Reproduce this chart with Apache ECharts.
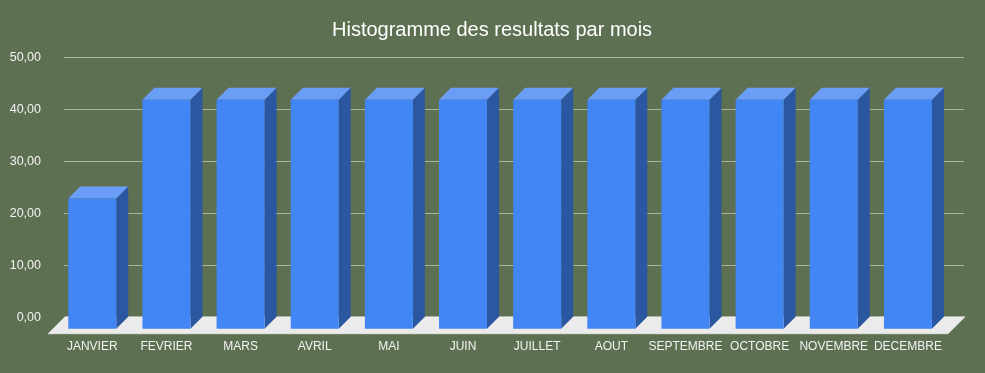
<!DOCTYPE html>
<html>
<head>
<meta charset="utf-8">
<script src="https://cdn.jsdelivr.net/npm/echarts@6/dist/echarts.min.js"></script>
<style>
html,body{margin:0;padding:0;background:#5e7052;}
#chart{width:985px;height:373px;}
</style>
</head>
<body>
<div id="chart"></div>
<script>
var titleText = 'Histogramme des resultats par mois';
var categories = ['JANVIER','FEVRIER','MARS','AVRIL','MAI','JUIN','JUILLET','AOUT','SEPTEMBRE','OCTOBRE','NOVEMBRE','DECEMBRE'];
var values = [23, 42, 42, 42, 42, 42, 42, 42, 42, 42, 42, 42];
var yMin = 0, yMax = 50, yStep = 10;

var DEPTH = 12, FRONT_DROP = 11.5, HALF_W = 24, FLOOR_D = 17;
var font = 'Liberation Sans, Arial, sans-serif';

var chart = echarts.init(document.getElementById('chart'));
chart.setOption({
  backgroundColor: '#5e7052',
  animation: false,
  title: {
    text: titleText, left: 327, top: 15,
    textStyle: {color: '#ffffff', fontSize: 20, fontWeight: 'normal', fontFamily: font}
  },
  grid: [
    {left: 64, width: 900, top: 57.3, height: 260},
    {left: 55.2, width: 889.8, top: 57.3, height: 260}
  ],
  xAxis: [
    {gridIndex: 0, type: 'value', min: 0, max: 1, show: false},
    {gridIndex: 1, type: 'category', data: categories,
     axisLine: {show: false}, axisTick: {show: false}, splitLine: {show: false},
     axisLabel: {color: '#f2f2f2', fontSize: 12, fontFamily: font, margin: 23, interval: 0}}
  ],
  yAxis: [
    {gridIndex: 0, type: 'value', min: yMin, max: yMax, interval: yStep,
     axisLine: {show: false}, axisTick: {show: false},
     splitLine: {lineStyle: {color: '#aab49f', width: 1}},
     axisLabel: {color: '#f2f2f2', fontSize: 12.5, fontFamily: font, margin: 23,
       formatter: function (v) { return v.toFixed(2).replace('.', ','); }}},
    {gridIndex: 1, type: 'value', min: yMin, max: yMax, interval: yStep, show: false}
  ],
  series: [
    {
      type: 'custom', xAxisIndex: 0, yAxisIndex: 0, data: [[0, 0]], z: 1,
      renderItem: function (params, api) {
        var cs = params.coordSys;
        var y0 = api.coord([0, 0])[1] - 0.5;
        var x0 = cs.x + 1, x1 = cs.x + cs.width + 1;
        return {
          type: 'polygon',
          shape: {points: [[x0, y0], [x1, y0], [x1 - FLOOR_D, y0 + FLOOR_D], [x0 - FLOOR_D, y0 + FLOOR_D]]},
          style: {fill: '#ebebeb', stroke: '#ffffff', lineWidth: 0.5}
        };
      }
    },
    {
      type: 'custom', xAxisIndex: 1, yAxisIndex: 1, z: 3,
      data: values.map(function (v, i) { return [i, v]; }),
      renderItem: function (params, api) {
        var top = api.coord([api.value(0), api.value(1)]);
        var base = api.coord([api.value(0), 0]);
        var cx = top[0];
        var l = cx - HALF_W, r = cx + HALF_W;
        var t = top[1] + 0.8, b = base[1] + FRONT_DROP;
        return {
          type: 'group',
          children: [
            {type: 'polygon', shape: {points: [[r, t], [r + DEPTH, t - DEPTH], [r + DEPTH, b - DEPTH], [r, b]]},
             style: {fill: '#2b56a0'}},
            {type: 'polygon', shape: {points: [[l, t], [l + DEPTH, t - DEPTH], [r + DEPTH, t - DEPTH], [r, t]]},
             style: {fill: '#6a9ef6'}},
            {type: 'rect', shape: {x: l, y: t, width: r - l, height: b - t},
             style: {fill: '#4285f4'}}
          ]
        };
      }
    }
  ]
});
</script>
</body>
</html>
